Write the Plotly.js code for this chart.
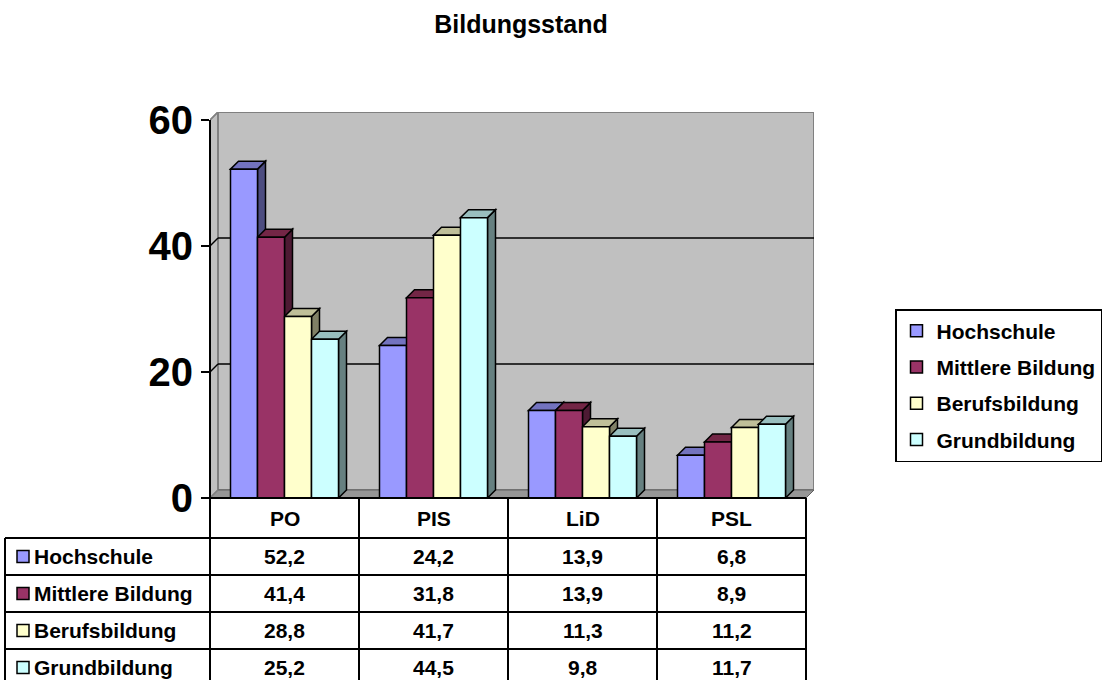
<!DOCTYPE html>
<html>
<head>
<meta charset="utf-8">
<script src="https://cdn.plot.ly/plotly-3.0.1.min.js"></script>
<style>html,body{margin:0;padding:0;background:#fff;}#chart{width:1103px;height:680px;}</style>
</head>
<body>
<div id="chart"></div>
<script>
// ---- data ----
const categories = ['PO', 'PIS', 'LiD', 'PSL'];
const seriesNames = ['Hochschule', 'Mittlere Bildung', 'Berufsbildung', 'Grundbildung'];
const hochschule = [52.2, 24.2, 13.9, 6.8];
const mittlereBildung = [41.4, 31.8, 13.9, 8.9];
const berufsbildung = [28.8, 41.7, 11.3, 11.2];
const grundbildung = [25.2, 44.5, 9.8, 11.7];
const yTickValues = [0, 20, 40, 60];
const yTickLabels = ['0', '20', '40', '60'];
const chartTitle = 'Bildungsstand';

// ---- styles ----
const frontColors = ['#9999FF', '#993366', '#FFFFCC', '#CCFFFF'];
const sideColors  = ['#4D4D80', '#4D1A33', '#808066', '#668080'];
const topColors   = ['#7373BF', '#732646', '#BFBF99', '#99BFBF'];
const FONT = 'Liberation Sans, Arial, Helvetica, sans-serif';

const series = [hochschule, mittlereBildung, berufsbildung, grundbildung];

// ---- geometry ----
const WIDTH = 1103, HEIGHT = 680;
const L = 210, T = 112;
const PXU = 149;       // px per category
const PYU = 6.3;       // px per y unit
const DEPTH = 8;       // 3D depth in px
const DX = DEPTH / PXU, DY = DEPTH / PYU;
const YTOP = 60;
const XMAX = categories.length - 0.5 + DX;
const YMAX = YTOP + DY;
const R = L + (categories.length + DX) * PXU;
const B = T + YMAX * PYU;
const BW = 27 / PXU;   // bar width in x units
const xPaper = px => (px - L) / (R - L);
const yPaper = py => (B - py) / (B - T);
const xIdx = categories.map((c, i) => i);

// ---- traces ----
const traces = series.map((vals, k) => ({
  type: 'bar',
  name: seriesNames[k],
  x: xIdx,
  y: vals,
  width: BW,
  offset: -2 * BW + k * BW,
  marker: {color: frontColors[k], line: {color: '#000', width: 1.5}},
  hoverinfo: 'skip',
  legendgroup: 'g' + k
}));

// ---- shapes ----
const shapes = [];
const x0w = -0.5, x1w = categories.length - 0.5;
// left wall
shapes.push({type: 'path', layer: 'below', xref: 'x', yref: 'y',
  path: `M ${x0w},0 L ${x0w + DX},${DY} L ${x0w + DX},${YTOP + DY} L ${x0w},${YTOP} Z`,
  fillcolor: '#C0C0C0', line: {color: '#808080', width: 1.5}});
// back wall
shapes.push({type: 'rect', layer: 'below', xref: 'x', yref: 'y',
  x0: x0w + DX, x1: x1w + DX, y0: DY, y1: YTOP + DY,
  fillcolor: '#C0C0C0', line: {color: '#808080', width: 2}});
// floor
shapes.push({type: 'path', layer: 'below', xref: 'x', yref: 'y',
  path: `M ${x0w},0 L ${x0w + DX},${DY} L ${x1w + DX},${DY} L ${x1w},0 Z`,
  fillcolor: '#969696', line: {color: '#606060', width: 1}});
// gridlines on back wall + diagonals on left wall
yTickValues.forEach(v => {
  if (v > 0 && v < YTOP) {
    shapes.push({type: 'line', layer: 'below', xref: 'x', yref: 'y',
      x0: x0w + DX, x1: x1w + DX, y0: v + DY, y1: v + DY,
      line: {color: '#000', width: 1.5}});
  }
  shapes.push({type: 'line', layer: 'below', xref: 'x', yref: 'y',
    x0: x0w, x1: x0w + DX, y0: v, y1: v + DY,
    line: {color: (v > 0 && v < YTOP) ? '#000' : '#808080', width: 1.5}});
});
// 3D side faces then top faces
const faces = [];
const tops = [];
series.forEach((vals, k) => {
  vals.forEach((v, i) => {
    const xl = xIdx[i] - 2 * BW + k * BW;
    const xr = xl + BW;
    faces.push({type: 'path', layer: 'between', xref: 'x', yref: 'y',
      path: `M ${xr},0 L ${xr + DX},${DY} L ${xr + DX},${v + DY} L ${xr},${v} Z`,
      fillcolor: sideColors[k], line: {color: '#000', width: 1.5}});
    tops.push({type: 'path', layer: 'between', xref: 'x', yref: 'y',
      path: `M ${xl},${v} L ${xl + DX},${v + DY} L ${xr + DX},${v + DY} L ${xr},${v} Z`,
      fillcolor: topColors[k], line: {color: '#000', width: 1.5}});
  });
});
shapes.push(...faces, ...tops);
// front value axis line
shapes.push({type: 'line', layer: 'above', xref: 'paper', yref: 'paper',
  x0: 0, x1: 0, y0: 0, y1: YTOP / YMAX, line: {color: '#000', width: 2}});

// ---- data table ----
const HEAD_H = 40, ROW_H = 37;
const tblLeft = 5;
const headTop = B, headBottom = B + HEAD_H;
const rowTop = k => headBottom + k * ROW_H;
const tblBottom = rowTop(seriesNames.length);
const colPx = j => L + j * PXU;
const tblLine = (px0, py0, px1, py1) => ({type: 'line', layer: 'above', xref: 'paper', yref: 'paper',
  x0: xPaper(px0), x1: xPaper(px1), y0: yPaper(py0), y1: yPaper(py1), line: {color: '#000', width: 2}});
shapes.push(tblLine(colPx(0), headTop, colPx(categories.length), headTop));
for (let k = 0; k <= seriesNames.length; k++) {
  shapes.push(tblLine(tblLeft, rowTop(k), colPx(categories.length), rowTop(k)));
}
shapes.push(tblLine(tblLeft, headBottom, tblLeft, tblBottom));
for (let j = 0; j <= categories.length; j++) {
  shapes.push(tblLine(colPx(j), headTop, colPx(j), tblBottom));
}
const annotations = [];
categories.forEach((c, i) => {
  annotations.push({xref: 'x', yref: 'paper', x: xIdx[i], y: yPaper(headTop + HEAD_H / 2),
    text: c, showarrow: false, xanchor: 'center', yanchor: 'middle',
    font: {family: FONT, size: 21, color: '#000', weight: 'bold'}});
});
seriesNames.forEach((name, k) => {
  const cy = rowTop(k) + ROW_H / 2;
  shapes.push({type: 'rect', layer: 'above', xref: 'paper', yref: 'paper',
    x0: xPaper(17), x1: xPaper(29), y0: yPaper(cy - 6), y1: yPaper(cy + 6),
    fillcolor: frontColors[k], line: {color: '#000', width: 1.5}});
  annotations.push({xref: 'paper', yref: 'paper', x: xPaper(32), y: yPaper(cy),
    text: name, showarrow: false, xanchor: 'left', yanchor: 'middle',
    font: {family: FONT, size: 21, color: '#000', weight: 'bold'}});
  series[k].forEach((v, i) => {
    annotations.push({xref: 'x', yref: 'paper', x: xIdx[i], y: yPaper(cy),
      text: v.toFixed(1).replace('.', ','), showarrow: false, xanchor: 'center', yanchor: 'middle',
      font: {family: FONT, size: 21, color: '#000', weight: 'bold'}});
  });
});

const layout = {
  width: WIDTH, height: HEIGHT,
  paper_bgcolor: '#fff', plot_bgcolor: 'rgba(0,0,0,0)',
  margin: {l: L, r: WIDTH - R, t: T, b: HEIGHT - B, pad: 0, autoexpand: false},
  title: {text: chartTitle, x: 521 / WIDTH, xanchor: 'center', y: 1 - 24 / HEIGHT, yanchor: 'middle',
    xref: 'container', yref: 'container',
    font: {family: FONT, size: 25, color: '#000', weight: 'bold'}},
  barmode: 'overlay',
  showlegend: true,
  legend: {x: xPaper(895), xanchor: 'left', y: yPaper(309), yanchor: 'top',
    bordercolor: '#000', borderwidth: 1.5, bgcolor: '#fff', tracegroupgap: 6,
    font: {family: FONT, size: 21, color: '#000', weight: 'bold'}, traceorder: 'grouped'},
  xaxis: {range: [-0.5, XMAX], showgrid: false, zeroline: false, showticklabels: false,
    ticks: '', showline: false, fixedrange: true},
  yaxis: {range: [0, YMAX], showgrid: false, zeroline: false, showline: false,
    tickmode: 'array', tickvals: yTickValues, ticktext: yTickLabels,
    ticks: 'outside', ticklen: 8, tickwidth: 2, tickcolor: '#000',
    tickfont: {family: FONT, size: 40, color: '#000', weight: 'bold'}, fixedrange: true},
  shapes: shapes,
  annotations: annotations
};

Plotly.newPlot('chart', traces, layout, {displayModeBar: false, staticPlot: true});
</script>
</body>
</html>
